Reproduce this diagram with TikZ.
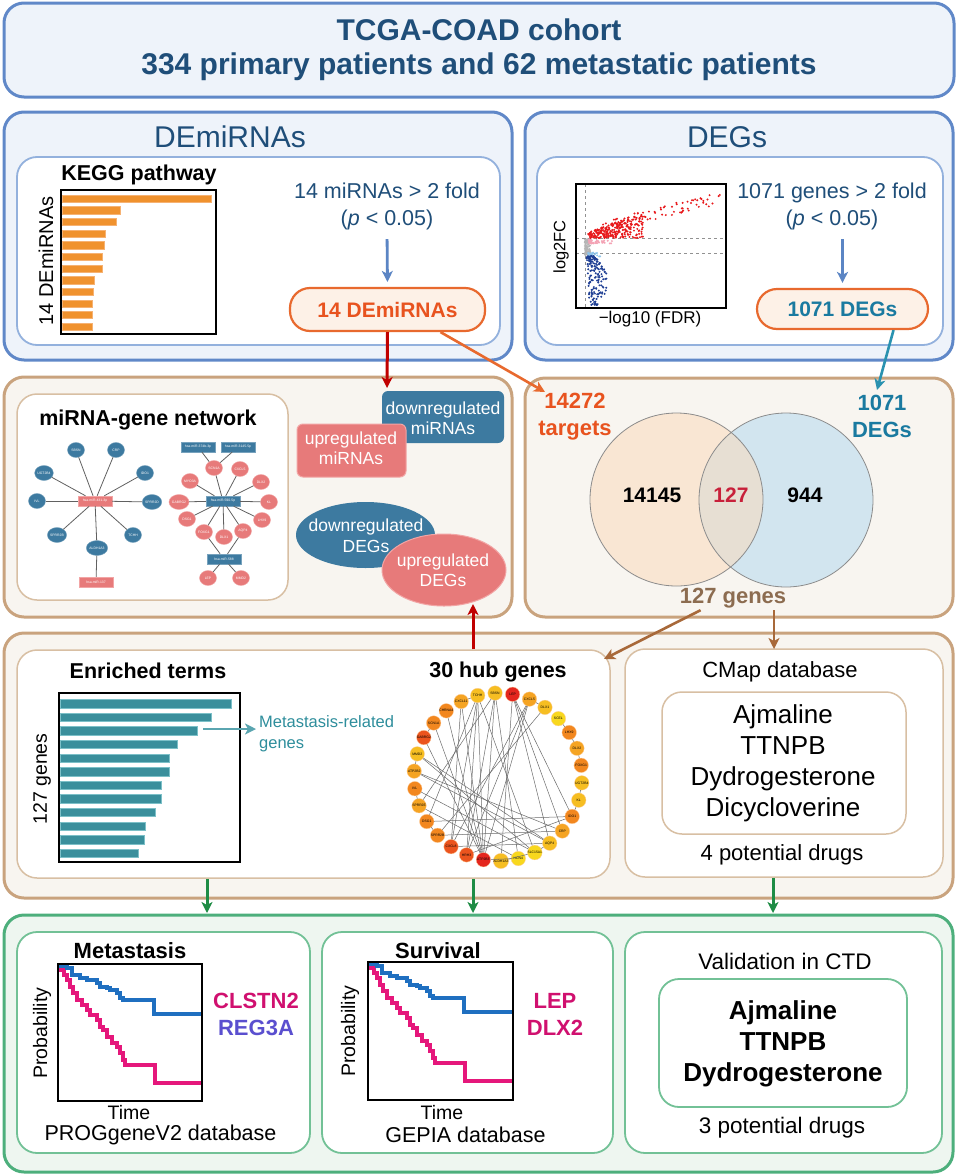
\documentclass[tikz,border=0pt]{standalone}
\usepackage{fontspec}
\setmainfont{Liberation Sans}
\usetikzlibrary{arrows.meta,fit,shapes.geometric}
\definecolor{bluebd}{HTML}{6088C8}
\definecolor{bluefill}{HTML}{EEF3FA}
\definecolor{blueinbd}{HTML}{93B1DD}
\definecolor{dkblue}{HTML}{1F4E79}
\definecolor{arrblue}{HTML}{5B85C4}
\definecolor{orbd}{HTML}{E8692E}
\definecolor{orfill}{HTML}{FDF1E7}
\definecolor{ortext}{HTML}{E8531F}
\definecolor{tealtext}{HTML}{1A7AA0}
\definecolor{tealarr}{HTML}{2A92B0}
\definecolor{kegg}{HTML}{F0922E}
\definecolor{keggbd}{HTML}{F6B273}
\definecolor{tanbd}{HTML}{C9A37E}
\definecolor{tanfill}{HTML}{F8F5F0}
\definecolor{taninbd}{HTML}{D8BFA3}
\definecolor{netblue}{HTML}{3D7AA0}
\definecolor{netpink}{HTML}{E77A7A}
\definecolor{netpinkbd}{HTML}{F2A5A5}
\definecolor{darkred}{HTML}{C00000}
\definecolor{vleft}{HTML}{F9E6D3}
\definecolor{vright}{HTML}{D2E5EF}
\definecolor{vmid}{HTML}{E7DFD3}
\definecolor{crim}{HTML}{C8203A}
\definecolor{browntext}{HTML}{8C6C50}
\definecolor{brownarr}{HTML}{A8693A}
\definecolor{enr}{HTML}{3A8F9C}
\definecolor{enrbd}{HTML}{7CC0C8}
\definecolor{enrtext}{HTML}{2E8E9C}
\definecolor{enrarr}{HTML}{5AA5B0}
\definecolor{greenbd}{HTML}{4DAF7C}
\definecolor{greenfill}{HTML}{EEF6F0}
\definecolor{greeninbd}{HTML}{72C196}
\definecolor{greenarr}{HTML}{1E8C45}
\definecolor{kmblue}{HTML}{1F6FC0}
\definecolor{kmpink}{HTML}{E5177B}
\definecolor{gmag}{HTML}{D0106F}
\definecolor{gpurp}{HTML}{5A4FCF}
\definecolor{volred}{HTML}{E8191C}
\definecolor{volpink}{HTML}{F4A3B5}
\definecolor{volgray}{HTML}{B5B5B5}
\definecolor{vollb}{HTML}{8EC5EC}
\definecolor{volnavy}{HTML}{1F3F94}
\definecolor{hr}{HTML}{E4261E}
\definecolor{hor}{HTML}{EB541E}
\definecolor{ho}{HTML}{F2871F}
\definecolor{hoy}{HTML}{F5A423}
\definecolor{hy}{HTML}{F6BE22}
\definecolor{hyy}{HTML}{F8D81E}
\newcommand\fs[2]{\fontsize{#1pt}{#2pt}\selectfont}
\newcommand\KMblue{(0,0) -| (9,2) -| (14,9) -| (22,12) -| (29,14) -| (39,17) -| (42,21) -| (49,22) -| (52,24) -| (59,27) -| (62,32) -| (65,34) -| (96,48) -- (144,48)}
\newcommand\KMpink{(0,0) -| (3,4) -| (6,9) -| (9,14) -| (12,21) -| (15,27) -| (19,34) -| (24,39) -| (29,44) -| (32,49) -| (39,54) -| (42,61) -| (45,64) -| (49,71) -| (54,77) -| (59,81) -| (62,87) -| (65,94) -| (67,99) -| (97,117) -- (144,117)}
\begin{document}
\begin{tikzpicture}[x=1pt,y=-1pt,
  outerblue/.style={draw=bluebd, fill=bluefill, line width=3pt, rounded corners=20pt, inner sep=0pt},
  innerblue/.style={draw=blueinbd, fill=white, line width=1.8pt, rounded corners=20pt, inner sep=0pt},
  outertan/.style={draw=tanbd, fill=tanfill, line width=3pt, rounded corners=20pt, inner sep=0pt},
  innertan/.style={draw=taninbd, fill=white, line width=1.5pt, rounded corners=20pt, inner sep=0pt},
  outergreen/.style={draw=greenbd, fill=greenfill, line width=3pt, rounded corners=20pt, inner sep=0pt},
  innergreen/.style={draw=greeninbd, fill=white, line width=1.8pt, rounded corners=20pt, inner sep=0pt},
  lbl/.style={inner sep=0pt, align=center},
  resbox/.style={draw=orbd, fill=orfill, line width=2.2pt, rounded corners=20pt, inner sep=0pt},
  bn/.style={ellipse, fill=netblue, draw=netblue!70!white, line width=0.4pt, minimum width=17pt, minimum height=15pt, inner sep=0pt, text=white, font=\fs{3.4}{4}},
  pn/.style={bn, fill=netpink, draw=netpinkbd},
  br/.style={rectangle, fill=netblue, draw=netblue!70!white, line width=0.4pt, minimum width=34pt, minimum height=10pt, inner sep=0pt, text=white, font=\fs{3.4}{4}},
  pr/.style={br, fill=netpink, draw=netpinkbd},
  nedge/.style={draw=black!62, line width=0.8pt},
  hub/.style={circle, minimum size=14.5pt, inner sep=0pt, draw=white!60!orange, line width=0.3pt, font=\fs{3.4}{4}},
  hedge/.style={draw=black!58, line width=0.5pt},
  tip/.style={-{Stealth[length=11pt,width=11pt,inset=3pt]}},
  bluearr/.style={tip, draw=arrblue, line width=2.8pt},
  redarr/.style={tip, draw=darkred, line width=3pt},
  orarr/.style={tip, draw=orbd, line width=2.6pt},
  tealarrow/.style={tip, draw=tealarr, line width=2.6pt},
  brownarrow/.style={tip, draw=brownarr, line width=2.6pt},
  greenarrow/.style={tip, draw=greenarr, line width=3pt},
  enrarrow/.style={tip, draw=enrarr, line width=2.6pt},
  frame/.style={draw=black, line width=1.3pt}
]
\useasboundingbox (0,0) rectangle (958,1175);

% ---------------- header ----------------
\node[outerblue, fit={(4,3) (954,97)}] (hdr) {};
\node[lbl, text=dkblue, font=\bfseries\fs{30}{34}] (hdrt) at (479,50) {TCGA-COAD cohort\\334 primary patients and 62 metastatic patients};

% ---------------- DEmiRNAs panel ----------------
\node[outerblue, fit={(4,112) (512,360)}] (pmir) {};
\node[innerblue, fit={(17,157) (500,345)}] (pmirin) {};
\node[lbl, text=dkblue, font=\fs{30}{34}] (tmir) at (230,137) {DEmiRNAs};
\node[lbl, font=\bfseries\fs{21.5}{24}] (tkegg) at (139,175) {KEGG pathway};
\foreach \r [count=\k from 0] in {211,120,116,105,104,102,102,94,93,92,92,92}{
  \filldraw[fill=kegg, draw=keggbd, line width=0.5pt] (62,{198.7+11.64*\k-3.6}) rectangle (\r,{198.7+11.64*\k+3.6});
}
\draw[frame] (61,190) rectangle (216,334);
\node[lbl, rotate=90, font=\fs{20}{22}] (ykegg) at (46,261) {14 DEmiRNAs};
\node[lbl, text=dkblue, font=\fs{21.5}{27}] (mirtxt) at (387,206.5) {14 miRNAs > 2 fold\\(\textit{p} < 0.05)};
\node[resbox, fit={(290,288) (485,331)}] (demibox) {};
\node[lbl, text=ortext, font=\bfseries\fs{21}{24}] (demitxt) at (demibox.center) {14 DEmiRNAs};
\draw[bluearr, shorten <=9pt, shorten >=5pt] (mirtxt.south) -- (demibox.north);

% ---------------- DEGs panel ----------------
\node[outerblue, fit={(525,112) (953,360)}] (pdeg) {};
\node[innerblue, fit={(537,157) (943,345)}] (pdegin) {};
\node[lbl, text=dkblue, font=\fs{30}{34}] (tdeg) at (727,137) {DEGs};
% volcano
\draw[volgray!80!black, dashed, line width=1pt] (585,184) -- (585,308);
\draw[volgray!80!black, dashed, line width=1pt] (576,238) -- (726,238);
\draw[volgray!80!black, dashed, line width=1pt] (576,253) -- (726,253);
\pgfmathsetseed{12}
\foreach \i in {1,...,70}{
  \pgfmathsetmacro\px{585+5*rnd}\pgfmathsetmacro\py{239+16*rnd}
  \fill[volgray] (\px,\py) circle (1.3pt);
}
\foreach \i in {1,...,35}{
  \pgfmathsetmacro\px{588+30*rnd*rnd}\pgfmathsetmacro\py{239.5+4*rnd}
  \fill[volpink] (\px,\py) circle (1.1pt);
}
\foreach \i in {1,...,30}{
  \pgfmathsetmacro\px{588+16*rnd*rnd}\pgfmathsetmacro\py{252.5+4*rnd}
  \fill[vollb] (\px,\py) circle (1.1pt);
}
\foreach \i in {1,...,260}{
  \pgfmathsetmacro\u{rnd}\pgfmathsetmacro\v{rnd}
  \pgfmathsetmacro\px{588+55*\u}
  \pgfmathsetmacro\py{238-\v*(6+18*\u)}
  \fill[volred] (\px,\py) circle (1.1pt);
}
\foreach \i in {1,...,75}{
  \pgfmathsetmacro\u{rnd}\pgfmathsetmacro\v{rnd}
  \pgfmathsetmacro\px{600+120*\u}
  \pgfmathsetmacro\py{234-30*\u-12*\v}
  \fill[volred] (\px,\py) circle (1.1pt);
}
\foreach \i in {1,...,170}{
  \pgfmathsetmacro\t{pow(rnd,1.5)}
  \pgfmathsetmacro\py{256+50*\t}
  \pgfmathsetmacro\px{586.5+3*\t+rnd*(8+12*sin(180*\t))}
  \fill[volnavy] (\px,\py) circle (1.1pt);
}
\draw[frame] (576,184) rectangle (726,308);
\node[lbl, rotate=90, font=\fs{16.5}{18}] (ylog) at (561,247) {log2FC};
\node[lbl, font=\fs{17}{19}] (xlog) at (650,319) {−log10 (FDR)};
\node[lbl, text=dkblue, font=\fs{21.5}{27}] (degtxt) at (832,206.5) {1071 genes > 2 fold\\(\textit{p} < 0.05)};
\node[resbox, fit={(757,289) (928,329)}] (degbox) {};
\node[lbl, text=tealtext, font=\bfseries\fs{21}{24}] (degboxtxt) at (degbox.center) {1071 DEGs};
\draw[bluearr, shorten <=9pt, shorten >=5pt] (degtxt.south -| degbox.north) -- (degbox.north);

% ---------------- middle row left ----------------
\node[outertan, fit={(4,377) (512,617)}] (pnet) {};
\node[innertan, fit={(17,394) (288,600)}] (pnetin) {};
\node[lbl, font=\bfseries\fs{21.5}{24}] (tnet) at (148,420) {miRNA-gene network};
% network 1
\node[pr] (m431) at (95,501) {hsa-miR-431-3p};
\node[bn] (aSBSN) at (76,450) {SBSN};
\node[bn] (aCRP) at (116,450) {CRP};
\node[bn] (aIDO1) at (145,473) {IDO1};
\node[bn] (aSPRR2D) at (152,502) {SPRR2D};
\node[bn] (aTCHH) at (133,535) {TCHH};
\node[bn] (aALDH) at (97,548) {ALDH1A3};
\node[bn] (aSPRR2B) at (57,535) {SPRR2B};
\node[bn] (aIVL) at (37,501) {IVL};
\node[bn] (aUGT) at (44,473) {UGT2B4};
\node[pr] (m137) at (96,582) {hsa-miR-137};
\foreach \n in {aSBSN,aCRP,aIDO1,aSPRR2D,aTCHH,aALDH,aSPRR2B,aIVL,aUGT}{\draw[nedge] (m431) -- (\n);}
\draw[nedge] (aALDH) -- (m137);
% network 2
\node[br] (m374) at (198,447) {hsa-miR-374b-3p};
\node[br] (m3145) at (238,447) {hsa-miR-3145-5p};
\node[pn] (bSCN1A) at (214,468) {SCN1A};
\node[pn] (bCXCL5) at (240,469) {CXCL5};
\node[pn] (bMYO3A) at (190,481) {MYO3A};
\node[pn] (bDLX2) at (261,482) {DLX2};
\node[pn] (bGABRG2) at (179,502) {GABRG2};
\node[br] (m590) at (223,501) {hsa-miR-590-5p};
\node[pn] (bKL) at (269,502) {KL};
\node[pn] (bDSG1) at (187,519) {DSG1};
\node[pn] (bLHX9) at (262,520) {LHX9};
\node[pn] (bFOXG1) at (204,532) {FOXG1};
\node[pn] (bDLX1) at (224,537) {DLX1};
\node[pn] (bAQP4) at (243,531) {AQP4};
\node[br] (m588) at (224,559) {hsa-miR-588};
\node[pn] (bLEP) at (208,578) {LEP};
\node[pn] (bMMD2) at (241,578) {MMD2};
\draw[nedge] (m374) -- (bSCN1A);
\draw[nedge] (m3145) -- (bSCN1A);
\foreach \n in {bSCN1A,bCXCL5,bMYO3A,bDLX2,bGABRG2,bKL,bDSG1,bLHX9,bFOXG1,bDLX1,bAQP4}{\draw[nedge] (m590) -- (\n);}
\foreach \n in {bFOXG1,bAQP4,bLEP,bMMD2}{\draw[nedge] (m588) -- (\n);}
% legend shapes
\node[rectangle, rounded corners=6pt, fill=netblue, minimum width=122pt, minimum height=52pt, inner sep=0pt] (dnmi) at (443,417) {};
\node[lbl, text=white, font=\fs{17.5}{20}] (dnmit) at (443,418) {downregulated\\miRNAs};
\node[rectangle, rounded corners=6pt, fill=netpink, draw=netpinkbd, line width=1pt, minimum width=109pt, minimum height=53pt, inner sep=0pt] (upmi) at (351.5,450.5) {};
\node[lbl, text=white, font=\fs{17.5}{20}] (upmit) at (351,448) {upregulated\\miRNAs};
\node[ellipse, fill=netblue, minimum width=139pt, minimum height=66pt, inner sep=0pt] (dndeg) at (365.5,535) {};
\node[lbl, text=white, font=\fs{17.5}{21}] (dndegt) at (366,535.5) {downregulated\\DEGs};
\node[ellipse, fill=netpink, draw=netpinkbd, line width=1pt, minimum width=124pt, minimum height=72pt, inner sep=0pt] (updeg) at (444,570) {};
\node[lbl, text=white, font=\fs{17.5}{20}] (updegt) at (443,570) {upregulated\\DEGs};

% ---------------- middle row right: Venn ----------------
\node[outertan, fit={(525,378) (953,617)}] (pvenn) {};
\node[circle, fill=vleft, minimum size=173pt, inner sep=0pt] (vl) at (676.5,499.5) {};
\node[circle, fill=vright, minimum size=174pt, inner sep=0pt] (vr) at (786,500) {};
\begin{scope}
  \clip (676.5,499.5) circle (86.5pt);
  \fill[vmid] (786,500) circle (87pt);
\end{scope}
\draw[black!45, line width=0.8pt] (676.5,499.5) circle (86.5pt);
\draw[black!45, line width=0.8pt] (786,500) circle (87pt);
\node[lbl, font=\bfseries\fs{21}{24}] (n14145) at (652,495) {14145};
\node[lbl, text=crim, font=\bfseries\fs{21}{24}] (n127) at (731,495) {127};
\node[lbl, font=\bfseries\fs{21}{24}] (n944) at (805,495) {944};
\node[lbl, text=ortext, font=\bfseries\fs{22}{27}] (tgt) at (575,416.5) {14272\\targets};
\node[lbl, text=tealtext, font=\bfseries\fs{22}{27}] (degs2) at (882,416.5) {1071\\DEGs};
\node[lbl, text=browntext, font=\bfseries\fs{22}{24}] (g127) at (733,598) {127 genes};

% connectors between rows 1 and 2
\coordinate (redtip) at (387,388);
\draw[redarr] (demibox.south) -- (redtip);
\coordinate (tgtip) at (545,392);
\draw[orarr] ([xshift=53pt]demibox.south) -- (tgtip);
\coordinate (degtip) at (877,390);
\draw[tealarrow] ([xshift=51pt]degbox.south) -- (degtip);

% ---------------- third row ----------------
\node[outertan, fit={(4,633) (953,898)}] (prow3) {};
\node[innertan, fit={(17,650) (610,878)}] (penr) {};
\node[innertan, fit={(625,649) (943,877)}] (pcmap) {};
\node[lbl, font=\bfseries\fs{21.5}{24}] (tenr) at (148,671) {Enriched terms};
\foreach \r [count=\k from 0] in {231,211,197,177,169,169,161,161,155,145,144,138}{
  \filldraw[fill=enr, draw=enrbd, line width=0.5pt] (60,{703.7+13.6*\k-4.2}) rectangle (\r,{703.7+13.6*\k+4.2});
}
\draw[frame] (59,693) rectangle (240,862);
\node[lbl, rotate=90, font=\fs{19.5}{22}] (yenr) at (42,779) {127 genes};
\node[lbl, text=enrtext, font=\fs{16.5}{21}, align=left, anchor=west] (metatxt) at (259,733.5) {Metastasis-related\\genes};
\coordinate (enrA) at (203,729);
\draw[enrarrow, shorten >=3pt] (enrA) -- (enrA -| metatxt.west);
% hub genes
\node[lbl, font=\bfseries\fs{21.5}{24}] (thub) at (498,672) {30 hub genes};
\foreach \nm/\col [count=\k from 0] in {LEP/hr, CXCL5/hoy, DLX1/hy, SCEL/hyy, LHX9/ho, DLX2/hoy, FOXG1/ho, UGT2B4/hy, KL/hy, IDO1/ho, CRP/hoy, AQP4/hy, SLC15A1/hyy, HCN4/hyy, ALDH1A3/hy, ATP2B3/hr, HRH3/hor, CXCL8/hor, SPRR2B/ho, DSG1/ho, SPRR2E/hoy, IVL/ho, ATP2B2/hoy, MMD2/hy, GABRG2/hor, SCN1A/ho, CHRNA4/ho, CXCL11/hoy, TCHH/hy, SBSN/hy}{
  \node[hub, fill=\col] (h\k) at ({498+84*cos(80-12*\k)},{777-84*sin(80-12*\k)}) {\nm};
}
\foreach \a/\b in {28/15, 28/16, 28/17, 28/19, 29/15, 29/16, 29/20, 27/15, 27/17, 26/15, 0/10, 0/11, 0/9, 0/14, 1/17, 1/16, 2/18, 1/15, 23/11, 23/12, 22/10, 22/11, 21/12, 20/13, 24/15, 25/15, 19/9, 18/10, 17/11, 16/9, 13/15, 12/14, 29/13, 28/12, 3/4, 4/5, 5/6, 7/8, 11/12, 8/9, 1/2, 20/21, 18/19, 22/23, 27/28, 24/25}{
  \draw[hedge] (h\a) -- (h\b);
}
% CMap
\node[lbl, font=\fs{22}{24}] (tcmap) at (780,672) {CMap database};
\node[innertan, fit={(662,692) (906,834)}] (drugbox) {};
\node[lbl, font=\fs{26}{31}] (drugs) at (783,763.5) {Ajmaline\\TTNPB\\Dydrogesterone\\Dicycloverine};
\node[lbl, font=\fs{22}{24}] (pot4) at (782,855) {4 potential drugs};

% connectors from row 2 to row 3
\coordinate (uptip) at (473,604);
\draw[redarr] (penr.north -| uptip) -- (uptip);
\coordinate (hubtip) at (604,659);
\draw[brownarrow] ([xshift=21pt, yshift=-2pt]g127.south west) -- (hubtip);
\coordinate (cmaptip) at (774,649);
\draw[brownarrow] ([yshift=-2pt]g127.south -| cmaptip) -- (cmaptip);

% ---------------- bottom row ----------------
\node[outergreen, fit={(4,915) (953,1172)}] (prow4) {};
\node[innergreen, fit={(17,932) (310,1153)}] (pmet) {};
\node[innergreen, fit={(322,932) (613,1153)}] (psurv) {};
\node[innergreen, fit={(625,932) (942,1153)}] (pctd) {};
\coordinate (g1) at (207,913);
\coordinate (g2) at (473,913);
\coordinate (g3) at (773,913);
\draw[greenarrow] (penr.south -| g1) -- (g1);
\draw[greenarrow] (penr.south -| g2) -- (g2);
\draw[greenarrow] (pcmap.south -| g3) -- (g3);
% KM 1
\node[lbl, font=\bfseries\fs{22}{24}] (tmet) at (130,951) {Metastasis};
\begin{scope}[shift={(58,966)}]
  \draw[kmpink, line width=3.2pt] \KMpink;
  \draw[kmblue, line width=3.2pt] \KMblue;
\end{scope}
\draw[frame] (58,964) rectangle (202,1101);
\node[lbl, rotate=90, font=\fs{19.5}{22}] (ykm1) at (42,1033) {Probability};
\node[lbl, font=\fs{19.5}{22}] (xkm1) at (129,1113) {Time};
\node[lbl, font=\fs{21.5}{24}] (dbkm1) at (160.5,1135) {PROGgeneV2 database};
\node[lbl, text=gmag, font=\bfseries\fs{22}{24}] (gcl) at (256,1001) {CLSTN2};
\node[lbl, text=gpurp, font=\bfseries\fs{22}{24}] (grg) at (256,1028) {REG3A};
% KM 2
\node[lbl, font=\bfseries\fs{22}{24}] (tsurv) at (438,951) {Survival};
\begin{scope}[shift={(368,964)}]
  \draw[kmpink, line width=3.2pt] \KMpink;
  \draw[kmblue, line width=3.2pt] \KMblue;
\end{scope}
\draw[frame] (368,962) rectangle (513,1100);
\node[lbl, rotate=90, font=\fs{19.5}{22}] (ykm2) at (350,1031) {Probability};
\node[lbl, font=\fs{19.5}{22}] (xkm2) at (442,1113) {Time};
\node[lbl, font=\fs{21.5}{24}] (dbkm2) at (465.5,1135) {GEPIA database};
\node[lbl, text=gmag, font=\bfseries\fs{22}{24}] (glep) at (555,1001) {LEP};
\node[lbl, text=gmag, font=\bfseries\fs{22}{24}] (gdlx) at (555,1028) {DLX2};
% CTD
\node[lbl, font=\fs{22.5}{24}] (tctd) at (785,961) {Validation in CTD};
\node[innergreen, fit={(659,979) (907,1107)}] (ctdbox) {};
\node[lbl, font=\bfseries\fs{26}{31}] (ctddrugs) at (783,1044) {Ajmaline\\TTNPB\\Dydrogesterone};
\node[lbl, font=\fs{22.5}{24}] (pot3) at (782,1128) {3 potential drugs};
\end{tikzpicture}
\end{document}
